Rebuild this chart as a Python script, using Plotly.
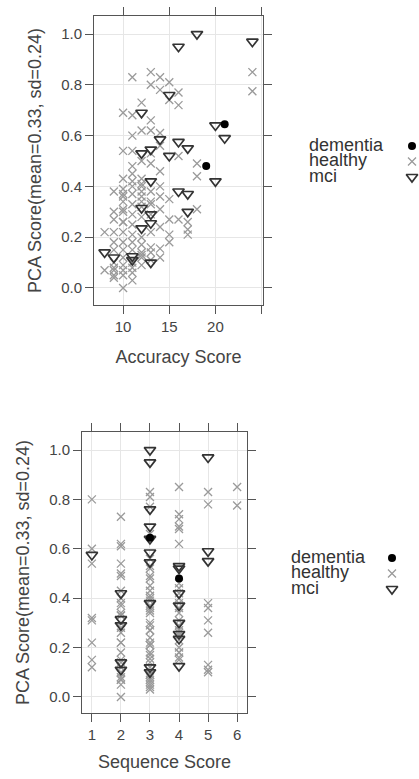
import plotly.graph_objects as go

# ---------------- data ----------------
groups = ["dementia", "healthy", "mci"]

dementia_acc = [21, 19]
dementia_seq = [3, 4]
dementia_pca = [0.645, 0.48]

mci_acc = [18, 16, 24, 15, 12, 20, 21, 14, 16, 17, 13, 12, 15, 20, 13, 16, 17, 17,
           12, 13, 13, 12, 8, 9, 11, 11, 13]
mci_seq = [3, 3, 5, 3, 3, 3, 5, 3, 1, 5, 3, 4, 4, 4, 2, 3, 4, 4,
           2, 2, 4, 4, 2, 3, 4, 2, 3]
mci_pca = [1.00, 0.95, 0.97, 0.76, 0.69, 0.64, 0.59, 0.585, 0.575, 0.55, 0.545, 0.53, 0.52, 0.42, 0.42, 0.38, 0.37, 0.30,
           0.315, 0.29, 0.255, 0.235, 0.14, 0.12, 0.125, 0.11, 0.10]

healthy_acc = [11, 13, 14, 15, 13, 14, 16, 15, 16, 12, 10, 11, 13, 24, 24,
               11, 12, 13, 14, 10, 11, 12, 13, 14, 16, 18, 18, 11, 12, 14, 13,
               10, 11, 10, 14, 15, 14, 18, 17, 17, 17, 15, 16, 15, 15, 14,
               10, 11, 8, 8, 9,
               9, 9, 9, 9, 9, 9, 9, 9, 9,
               12, 10, 10, 10, 10, 10, 10, 10, 10, 10, 10, 10, 10,
               11, 11, 11, 11, 11, 11, 11, 11, 11, 11,
               12, 12, 12, 12, 12, 12, 12, 12, 12, 12,
               13, 13, 13, 13, 13, 13, 13,
               14, 14, 14,
               12, 13, 10, 11, 12, 11, 9, 10]
healthy_seq = [5, 4, 3, 3, 1, 5, 3, 4, 4, 2, 4, 4, 3, 6, 6,
               1, 2, 4, 2, 1, 2, 2, 2, 3, 3, 3, 4, 3, 2, 4, 3,
               3, 2, 3, 4, 3, 4, 5, 5, 4, 3, 3, 4, 3, 4, 3,
               2, 3, 1, 2, 3,
               2, 3, 2, 4, 1, 2, 3, 2, 3,
               5, 5, 2, 1, 3, 4, 2, 3, 2, 1, 3, 2, 3,
               4, 2, 3, 4, 3, 2, 4, 5, 2, 3,
               3, 3, 1, 2, 4, 3, 2, 5, 3, 3,
               4, 3, 2, 3, 4, 3, 5,
               4, 3, 2,
               4, 4, 3, 3, 3, 2, 2, 2]
healthy_pca = [0.83, 0.85, 0.83, 0.81, 0.80, 0.78, 0.77, 0.74, 0.72, 0.73, 0.69, 0.68, 0.66, 0.85, 0.775,
               0.60, 0.62, 0.62, 0.61, 0.54, 0.54, 0.50, 0.49, 0.56, 0.52, 0.49, 0.44, 0.45, 0.43, 0.46, 0.53,
               0.39, 0.37, 0.37, 0.40, 0.35, 0.36, 0.31, 0.26, 0.23, 0.21, 0.27, 0.27, 0.21, 0.18, 0.155,
               0.00, 0.03, 0.22, 0.07, 0.07,
               0.38, 0.27, 0.22, 0.18, 0.15, 0.10, 0.08, 0.05, 0.04,
               0.38, 0.36, 0.34, 0.31, 0.30, 0.26, 0.22, 0.18, 0.15, 0.12, 0.09, 0.07, 0.05,
               0.42, 0.33, 0.29, 0.25, 0.21, 0.18, 0.15, 0.10, 0.08, 0.06,
               0.40, 0.36, 0.32, 0.28, 0.20, 0.17, 0.14, 0.13, 0.09, 0.12,
               0.38, 0.34, 0.33, 0.22, 0.16, 0.14, 0.11,
               0.31, 0.24, 0.12,
               0.34, 0.29, 0.43, 0.48, 0.41, 0.40, 0.30, 0.26]

acc_ticks = [10, 15, 20, 25]
acc_ticklabels = ["10", "15", "20", ""]
seq_ticks = [1, 2, 3, 4, 5, 6]
pca_ticks = [0.0, 0.2, 0.4, 0.6, 0.8, 1.0]

y_title = "PCA Score(mean=0.33, sd=0.24)"
x_title_top = "Accuracy Score"
x_title_bottom = "Sequence Score"

# ---------------- style ----------------
W, H = 419, 779
FONT = "Liberation Sans, Arial, Helvetica, sans-serif"
TXT = "#444444"
styles = {
    "dementia": dict(symbol="circle", size=8, color="#000000", line=dict(width=0, color="#000000")),
    "healthy": dict(symbol="x-thin-open", size=8, color="#9a9a9a", line=dict(width=1.3, color="#9a9a9a")),
    "mci": dict(symbol="triangle-down-open", size=10, color="#333333", line=dict(width=1.7, color="#333333")),
}
data = {
    "dementia": (dementia_acc, dementia_seq, dementia_pca),
    "healthy": (healthy_acc, healthy_seq, healthy_pca),
    "mci": (mci_acc, mci_seq, mci_pca),
}

fig = go.Figure()
for g in ["healthy", "mci", "dementia"]:
    acc, seq, pca = data[g]
    fig.add_trace(go.Scatter(x=acc, y=pca, mode="markers", marker=styles[g], name=g,
                             xaxis="x", yaxis="y", showlegend=False))
    fig.add_trace(go.Scatter(x=seq, y=pca, mode="markers", marker=styles[g], name=g,
                             xaxis="x2", yaxis="y2", showlegend=False))

# keys (legends): each drawn on its own small axis measured in pixels
keys = [dict(ax="3", text_x=309, sym_x=412, y0=146, dy=15.5, box=(285, 120, 419, 200)),
        dict(ax="4", text_x=291, sym_x=392, y0=558, dy=15.5, box=(270, 530, 419, 610))]
for k in keys:
    ys = [k["y0"] + i * k["dy"] for i in range(len(groups))]
    fig.add_trace(go.Scatter(x=[k["text_x"]] * len(groups), y=ys, mode="text", text=groups,
                             textposition="middle right", textfont=dict(family=FONT, size=18, color="#333333"),
                             xaxis="x" + k["ax"], yaxis="y" + k["ax"], showlegend=False, hoverinfo="skip",
                             cliponaxis=False))
    for g, yy in zip(groups, ys):
        fig.add_trace(go.Scatter(x=[k["sym_x"]], y=[yy], mode="markers", marker=styles[g],
                                 xaxis="x" + k["ax"], yaxis="y" + k["ax"], showlegend=False,
                                 hoverinfo="skip", cliponaxis=False))

def px_dom_x(a, b):
    return [a / W, b / W]

def px_dom_y(top, bottom):
    return [1 - bottom / H, 1 - top / H]

common = dict(showline=True, linecolor="#555555", linewidth=1, mirror="ticks", ticks="outside",
              ticklen=8, tickcolor="#555555", tickwidth=1, showgrid=True, gridcolor="#e6e6e6",
              gridwidth=1, zeroline=False,
              tickfont=dict(family=FONT, size=15, color=TXT))
title_font = dict(family=FONT, size=18, color=TXT)

layout_axes = {}
for k in keys:
    x0, y0, x1, y1 = k["box"]
    layout_axes["xaxis" + k["ax"]] = dict(domain=px_dom_x(x0, x1), range=[x0, x1], visible=False,
                                          anchor="y" + k["ax"], fixedrange=True, showgrid=False)
    layout_axes["yaxis" + k["ax"]] = dict(domain=px_dom_y(y0, y1), range=[y1, y0], visible=False,
                                          anchor="x" + k["ax"], fixedrange=True, showgrid=False)

fig.update_layout(
    width=W, height=H, margin=dict(l=0, r=0, t=0, b=0),
    paper_bgcolor="white", plot_bgcolor="rgba(0,0,0,0)", showlegend=False,
    xaxis=dict(domain=px_dom_x(94, 263), range=[6.85, 25.15], tickvals=acc_ticks, ticktext=acc_ticklabels,
               anchor="y", title=dict(text=x_title_top, font=title_font, standoff=16), **common),
    yaxis=dict(domain=px_dom_y(16, 305), range=[-0.067, 1.071], tickvals=pca_ticks, tickformat=".1f",
               anchor="x", title=dict(text=y_title, font=title_font, standoff=14), **common),
    xaxis2=dict(domain=px_dom_x(82, 247), range=[0.66, 6.34], tickvals=seq_ticks,
                anchor="y2", title=dict(text=x_title_bottom, font=title_font, standoff=13), **common),
    yaxis2=dict(domain=px_dom_y(432, 713), range=[-0.065, 1.073], tickvals=pca_ticks, tickformat=".1f",
                anchor="x2", title=dict(text=y_title, font=title_font, standoff=14), **common),
    **layout_axes,
)

fig.write_html("out.html", config={"displayModeBar": False},
               post_script="document.body.style.margin='0';")
